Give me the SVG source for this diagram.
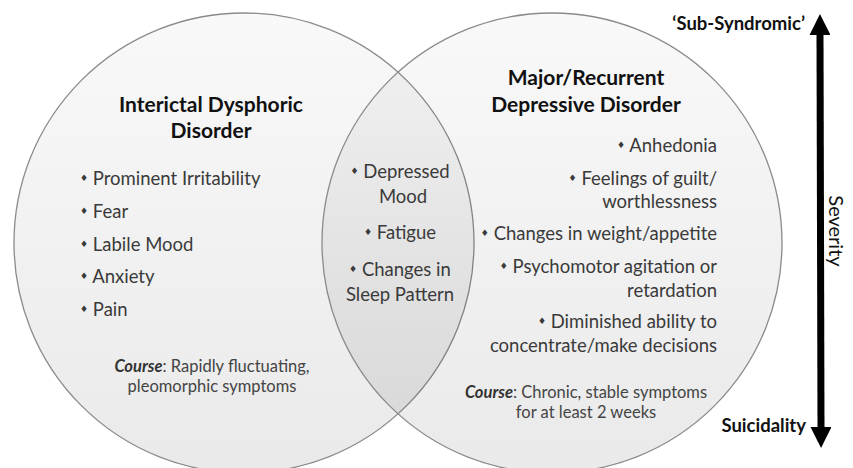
<svg xmlns="http://www.w3.org/2000/svg" width="853" height="468" viewBox="0 0 853 468">
<defs>
<linearGradient id="cg" x1="0" y1="0" x2="0" y2="1">
<stop offset="0" stop-color="#000" stop-opacity="0.025"/>
<stop offset="1" stop-color="#000" stop-opacity="0.085"/>
</linearGradient>
<marker id="ah" viewBox="0 0 10 10" refX="0" refY="5" markerWidth="3.1" markerHeight="3" orient="auto-start-reverse" markerUnits="strokeWidth">
<path d="M0,0 L10,5 L0,10 z" fill="#000"/>
</marker>
</defs>
<style>
.circ{fill:url(#cg);stroke:#8a8a8a;stroke-width:1.3}
text{font-family:Lato,"Liberation Sans",sans-serif}
.title{font-size:21px;font-weight:bold;fill:#111;text-anchor:middle}
.item{font-size:18.5px;fill:#3a3a3a}
.b{font-size:9px;font-family:"DejaVu Sans",sans-serif}
.mid{text-anchor:middle}
.end{text-anchor:end}
.course{font-size:16.5px;fill:#444;text-anchor:middle}
.cb{font-weight:bold;font-style:italic;fill:#333}
.axis{font-size:18.5px;font-weight:bold;fill:#111}
.sev{font-size:20px;fill:#111;text-anchor:middle}
</style>
<rect width="853" height="468" fill="#fff"/>
<g id="left-circle">
<circle class="circ" cx="244" cy="243" r="230"/>
</g>
<g id="right-circle">
<circle class="circ" cx="552" cy="243" r="230"/>
</g>
<g id="left-text">
<text class="title" x="211" y="112">Interictal Dysphoric</text>
<text class="title" x="211" y="138">Disorder</text>
<text class="item" x="80" y="185"><tspan class="b" dy="-4">♦</tspan><tspan dy="4"> Prominent Irritability</tspan></text>
<text class="item" x="80" y="218"><tspan class="b" dy="-4">♦</tspan><tspan dy="4"> Fear</tspan></text>
<text class="item" x="80" y="251"><tspan class="b" dy="-4">♦</tspan><tspan dy="4"> Labile Mood</tspan></text>
<text class="item" x="80" y="283"><tspan class="b" dy="-4">♦</tspan><tspan dy="4"> Anxiety</tspan></text>
<text class="item" x="80" y="316"><tspan class="b" dy="-4">♦</tspan><tspan dy="4"> Pain</tspan></text>
<text class="course" x="212" y="372"><tspan class="cb">Course</tspan>: Rapidly fluctuating,</text>
<text class="course" x="212" y="392">pleomorphic symptoms</text>
</g>
<g id="overlap-text">
<text class="item mid" x="400" y="178"><tspan class="b" dy="-4">♦</tspan><tspan dy="4"> Depressed</tspan></text>
<text class="item mid" x="403" y="203">Mood</text>
<text class="item mid" x="400" y="239"><tspan class="b" dy="-4">♦</tspan><tspan dy="4"> Fatigue</tspan></text>
<text class="item mid" x="400" y="276"><tspan class="b" dy="-4">♦</tspan><tspan dy="4"> Changes in</tspan></text>
<text class="item mid" x="400" y="301">Sleep Pattern</text>
</g>
<g id="right-text">
<text class="title" x="586" y="85">Major/Recurrent</text>
<text class="title" x="586" y="112">Depressive Disorder</text>
<text class="item end" x="717" y="152"><tspan class="b" dy="-4">♦</tspan><tspan dy="4"> Anhedonia</tspan></text>
<text class="item end" x="717" y="185"><tspan class="b" dy="-4">♦</tspan><tspan dy="4"> Feelings of guilt/</tspan></text>
<text class="item end" x="717" y="208">worthlessness</text>
<text class="item end" x="717" y="240"><tspan class="b" dy="-4">♦</tspan><tspan dy="4"> Changes in weight/appetite</tspan></text>
<text class="item end" x="717" y="273"><tspan class="b" dy="-4">♦</tspan><tspan dy="4"> Psychomotor agitation or</tspan></text>
<text class="item end" x="717" y="297">retardation</text>
<text class="item end" x="717" y="328"><tspan class="b" dy="-4">♦</tspan><tspan dy="4"> Diminished ability to</tspan></text>
<text class="item end" x="717" y="352">concentrate/make decisions</text>
<text class="course" x="586" y="398"><tspan class="cb">Course</tspan>: Chronic, stable symptoms</text>
<text class="course" x="586" y="418">for at least 2 weeks</text>
</g>
<g id="connectors">
<line x1="820" y1="35" x2="821" y2="427" stroke="#000" stroke-width="7" marker-start="url(#ah)" marker-end="url(#ah)"/>
</g>
<g id="axis-labels">
<text class="axis end" x="805" y="30">‘Sub-Syndromic’</text>
<text class="axis end" x="806" y="432">Suicidality</text>
<text class="sev" transform="translate(829,231) rotate(90)">Severity</text>
</g>
</svg>
